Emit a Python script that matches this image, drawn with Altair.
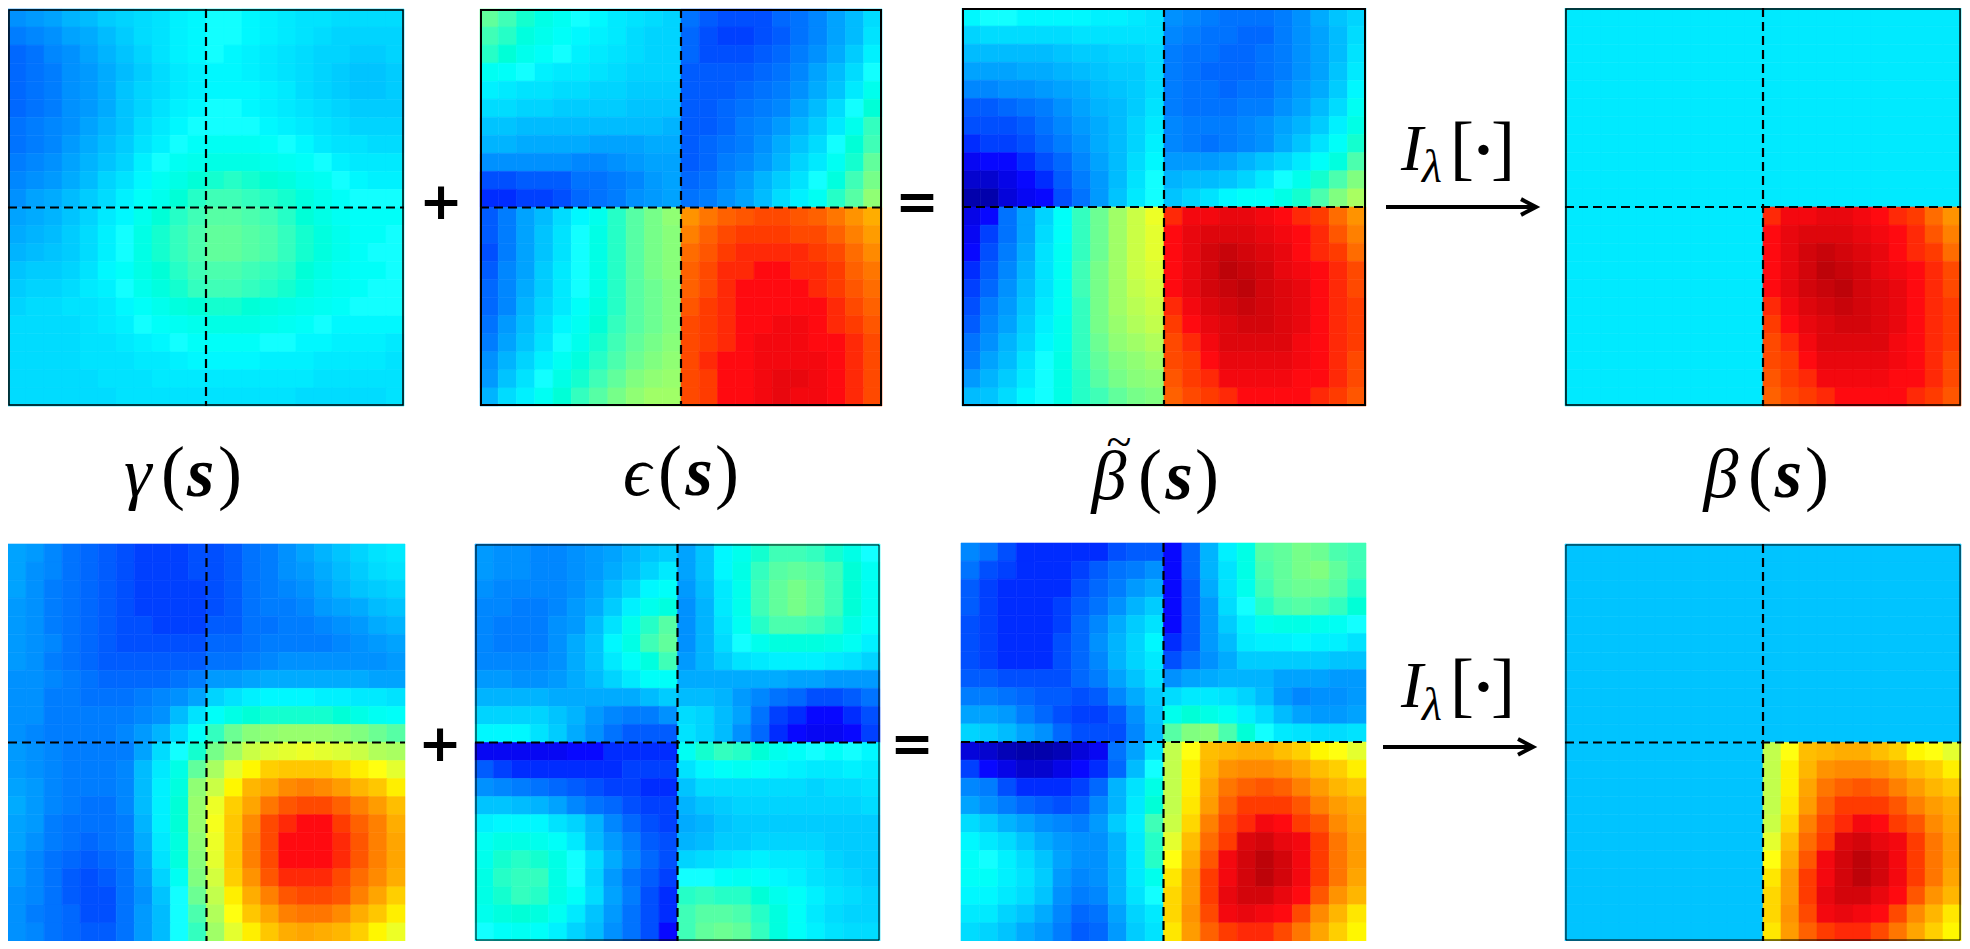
import altair as alt
import pandas as pd

# Heat-map values on a 0-100 jet scale (22 x 22 cells per panel)
gamma_top = [
[20,21,22,24,25,27,28,29,30,32,33,34,34,33,32,31,30,30,29,29,29,29],
[18,19,20,22,23,25,27,29,30,32,33,34,34,33,32,31,30,29,28,28,28,28],
[16,17,19,20,22,24,26,28,30,32,33,34,33,32,31,30,29,28,28,27,27,28],
[16,17,18,20,21,23,25,27,29,31,32,33,33,32,31,30,29,28,27,26,26,27],
[16,17,18,20,21,23,26,28,29,31,32,33,33,33,32,31,29,28,27,26,26,27],
[16,17,18,20,21,23,26,28,30,32,33,34,34,33,32,31,30,29,28,27,27,27],
[17,18,19,20,22,24,26,29,31,33,34,34,34,34,33,32,31,30,29,28,28,28],
[17,18,19,21,23,25,27,30,32,34,35,36,36,36,35,34,33,31,30,30,29,29],
[18,19,20,22,24,26,28,32,34,36,37,38,38,38,37,36,35,34,32,31,31,31],
[19,20,21,23,25,28,30,33,36,38,40,41,42,41,40,39,37,36,34,33,32,32],
[20,22,23,25,27,29,32,35,37,40,42,44,44,43,42,41,39,37,35,34,34,34],
[22,23,24,26,28,31,33,37,40,42,44,46,46,45,44,42,40,38,36,35,35,35],
[23,24,25,27,29,32,34,38,41,43,45,47,47,46,45,43,41,39,37,35,35,34],
[24,25,26,27,29,32,34,38,41,43,45,47,47,46,45,43,41,39,37,35,34,34],
[26,27,27,28,30,33,35,38,40,42,44,45,45,44,43,42,40,38,36,35,35,34],
[27,28,28,29,31,32,34,37,39,41,43,44,44,43,42,41,39,37,36,35,34,34],
[28,29,29,30,30,31,33,35,37,39,40,41,41,40,39,38,37,36,35,34,34,34],
[29,29,29,29,30,31,32,34,35,36,37,38,38,38,37,36,35,34,33,33,33,33],
[29,29,29,29,30,30,31,32,33,34,35,35,35,35,34,34,33,33,32,32,32,31],
[29,29,29,29,30,30,30,31,31,32,33,33,33,33,32,32,32,31,31,31,31,30],
[29,29,29,29,29,30,30,30,31,31,31,31,31,31,31,31,31,30,30,30,30,30],
[29,29,29,29,29,29,30,30,30,30,30,30,30,30,30,30,29,29,29,29,29,30],
]
eps_top = [
[47,44,41,38,36,34,33,31,30,29,28,17,15,14,14,14,16,17,19,22,25,29],
[44,42,39,37,35,33,32,31,29,28,28,16,14,13,13,14,15,17,19,22,25,30],
[42,40,37,35,34,32,31,30,29,28,28,16,14,14,14,15,16,18,20,23,27,32],
[36,35,34,32,31,31,30,29,28,28,28,15,15,15,15,16,17,19,22,25,29,34],
[32,31,30,30,29,29,28,28,27,27,27,15,15,15,16,17,18,20,23,26,31,37],
[29,29,28,28,27,27,27,27,26,26,26,15,15,16,17,18,19,22,25,29,34,40],
[26,26,25,25,25,25,25,25,25,25,24,15,15,16,18,19,21,24,27,31,37,43],
[24,24,23,23,23,23,22,22,22,23,23,15,16,17,18,20,23,26,29,34,40,44],
[20,20,20,20,20,19,19,20,21,22,22,15,16,18,19,21,24,28,31,36,41,47],
[14,14,15,15,15,17,17,18,19,21,22,16,17,19,21,24,27,30,34,39,44,49],
[12,12,13,13,14,16,17,18,20,21,22,17,18,20,22,25,29,32,36,42,46,52],
[15,18,22,25,29,33,37,42,46,49,52,78,81,83,84,85,85,84,83,81,78,75],
[15,18,22,26,30,34,38,42,46,49,51,80,83,85,86,86,86,85,85,83,80,77],
[14,18,22,26,30,34,38,42,46,49,51,82,84,86,87,87,87,87,86,85,82,79],
[15,19,22,27,31,34,38,42,46,49,51,83,85,87,87,88,88,87,87,86,83,81],
[16,19,23,27,31,34,38,42,46,48,50,83,85,87,88,88,88,88,87,86,84,82],
[16,19,24,28,31,35,39,42,46,48,50,84,86,87,88,88,88,88,88,87,85,83],
[17,21,25,29,33,36,40,43,46,48,50,85,86,87,88,88,89,89,88,87,86,84],
[18,22,26,30,34,37,41,44,47,49,51,85,86,87,88,89,89,89,88,88,87,85],
[20,24,28,32,36,39,42,45,48,50,52,85,87,88,88,89,89,89,89,88,87,85],
[21,26,30,34,38,41,44,47,50,52,53,85,86,88,88,89,90,90,89,88,87,85],
[24,29,32,36,40,43,46,49,52,54,54,85,86,88,88,89,90,89,89,88,87,85],
]
beta_tilde_top = [
[33,34,34,33,33,33,33,32,32,31,30,20,19,18,17,17,17,18,20,23,26,28],
[28,29,29,29,29,29,30,30,30,30,30,19,18,17,17,16,16,18,20,22,25,29],
[25,25,25,25,25,26,27,27,28,28,29,18,17,17,16,16,17,18,20,22,25,30],
[22,22,22,23,23,24,25,26,27,27,29,18,17,16,16,16,17,18,20,22,26,31],
[19,19,20,20,21,22,23,25,26,27,29,18,17,17,16,17,17,19,21,23,27,33],
[15,15,16,17,18,20,22,24,25,27,30,18,17,17,17,18,18,20,22,25,29,36],
[14,14,14,15,17,19,21,23,25,28,31,19,18,18,18,19,20,22,24,27,32,38],
[12,13,13,14,16,18,20,23,25,28,32,19,18,17,18,19,20,23,26,30,35,41],
[10,11,11,12,14,16,19,22,25,29,33,21,21,21,22,24,26,28,31,35,39,45],
[7,7,9,11,12,15,18,21,25,30,34,24,25,25,26,28,31,34,37,41,45,50],
[4,4,8,10,11,14,17,21,26,31,34,26,28,30,33,35,35,38,41,45,50,55],
[9,11,17,22,28,35,43,48,54,59,63,87,89,89,90,90,89,88,87,86,82,78],
[10,13,17,22,29,35,43,48,54,59,62,88,90,91,91,91,90,89,88,87,84,80],
[11,14,18,23,30,36,43,48,54,59,62,88,90,92,93,92,91,90,88,87,86,82],
[12,15,19,24,30,36,44,49,54,59,61,88,90,92,94,93,92,90,89,88,87,85],
[13,16,20,25,30,36,44,49,54,58,60,88,90,92,93,94,92,91,90,88,87,85],
[14,18,21,26,31,36,43,49,54,57,59,87,89,91,92,93,92,91,90,88,87,86],
[15,19,22,27,32,37,43,49,53,56,58,86,88,90,91,92,92,91,90,88,87,86],
[17,20,24,28,33,37,43,48,52,54,56,85,87,89,91,91,91,91,89,88,87,86],
[18,22,25,30,34,38,43,47,50,52,54,85,86,88,90,90,90,90,89,88,87,85],
[21,24,27,31,34,38,42,46,49,51,52,84,86,87,89,89,89,89,88,88,87,85],
[25,26,29,33,34,38,42,44,47,49,50,83,85,86,87,88,88,88,88,87,86,84],
]
gamma_low = [
[22,21,19,17,16,15,14,13,13,13,14,14,15,17,18,20,22,24,26,28,30,31],
[22,20,19,17,16,15,14,13,13,13,14,14,15,17,18,20,21,23,25,27,29,30],
[22,20,18,17,16,15,14,13,13,13,13,14,15,17,18,19,20,22,24,26,27,28],
[21,20,18,17,16,15,14,13,13,13,13,14,15,17,18,18,19,21,22,23,25,26],
[21,20,18,17,16,15,14,14,13,13,13,15,15,17,17,18,18,19,20,21,23,24],
[21,20,19,17,16,15,14,14,14,14,14,16,16,17,18,18,18,18,19,20,21,22],
[21,20,18,17,16,15,15,15,15,15,15,17,17,18,19,20,20,20,20,20,20,21],
[20,20,19,18,17,16,16,16,16,17,18,21,21,22,23,23,23,23,23,23,22,22],
[20,20,18,18,17,17,17,18,19,20,22,28,30,32,33,33,33,32,32,31,31,30],
[20,20,18,18,18,18,18,19,20,25,30,35,38,40,41,41,41,41,40,38,36,35],
[20,19,18,18,18,18,19,21,24,29,35,43,48,51,52,53,53,53,52,50,48,46],
[21,20,19,18,18,18,18,22,29,34,41,49,54,59,61,62,63,62,61,59,56,55],
[21,20,19,18,18,18,19,25,31,38,47,55,62,66,71,72,72,72,70,67,65,62],
[22,21,19,18,18,18,19,25,32,39,52,59,66,74,76,79,80,79,77,74,72,67],
[23,21,19,18,17,17,19,25,32,40,53,63,71,76,81,84,85,85,83,80,77,73],
[22,21,18,17,17,17,18,24,32,40,53,64,72,79,85,87,88,88,86,83,80,75],
[22,20,18,17,16,17,18,23,31,39,52,63,72,80,85,88,88,88,87,84,80,76],
[21,19,17,16,15,16,17,22,30,39,51,62,72,80,85,88,88,88,87,84,80,76],
[21,19,17,15,14,15,17,21,28,36,50,60,71,78,84,87,87,87,85,82,79,75],
[20,19,17,15,14,14,17,20,26,34,48,58,67,75,80,84,85,85,84,80,76,71],
[20,18,17,16,14,14,17,21,25,34,45,56,65,72,76,80,81,81,79,75,72,67],
[20,19,17,16,15,15,17,21,25,34,43,54,62,67,72,75,76,75,74,71,66,63],
]
eps_low = [
[21,20,20,19,19,20,21,22,24,26,27,22,26,33,37,41,44,44,43,41,38,34],
[21,20,20,19,19,20,21,23,25,28,31,22,26,33,38,43,46,47,46,44,40,36],
[20,19,19,19,19,20,22,25,28,33,35,21,25,31,37,44,47,49,47,44,40,36],
[19,19,18,18,19,21,23,27,32,37,39,20,24,31,37,44,47,49,47,44,40,36],
[19,18,18,18,20,21,25,30,37,42,46,20,24,30,36,42,45,45,44,42,38,35],
[19,18,18,18,20,23,26,33,38,44,47,20,24,29,34,37,39,39,39,38,36,32],
[19,19,19,19,20,23,26,31,35,39,44,21,24,27,30,31,32,32,32,31,30,28],
[21,21,20,20,21,23,25,28,31,35,35,23,23,23,23,23,23,22,22,21,21,21],
[24,24,24,24,23,23,23,23,23,25,27,25,25,24,21,19,17,16,14,14,15,17],
[28,28,28,28,26,24,21,19,18,18,20,29,28,25,22,17,13,12,11,11,12,14],
[33,33,33,30,27,23,20,17,15,15,15,30,28,25,20,16,12,11,10,10,11,13],
[10,10,10,10,10,11,11,12,12,12,12,36,41,43,42,40,37,35,34,35,34,33],
[15,13,12,12,12,12,12,12,13,13,13,30,33,35,36,35,33,32,31,31,32,31],
[20,19,18,17,16,15,14,13,13,12,12,26,29,29,29,29,29,29,28,29,29,30],
[26,26,25,24,22,19,17,16,14,13,13,24,26,27,28,28,28,28,28,28,28,29],
[32,33,33,33,30,28,24,19,16,14,13,23,24,26,27,27,27,27,27,27,27,27],
[36,38,38,37,35,31,25,21,18,15,14,24,25,27,27,28,28,28,28,27,27,27],
[37,41,42,41,38,34,29,23,19,16,14,28,29,30,31,32,31,31,30,28,27,27],
[38,42,43,43,38,34,28,21,17,15,13,34,34,35,36,35,33,32,30,29,28,27],
[38,41,43,42,38,35,29,22,18,14,12,42,43,42,42,40,37,35,32,30,29,28],
[37,39,40,39,36,31,26,21,17,14,12,44,46,46,45,42,39,35,31,29,28,28],
[34,35,36,35,32,28,25,20,17,14,11,44,47,48,47,43,39,35,32,30,29,29],
]
beta_tilde_low = [
[19,17,14,12,12,12,12,12,14,15,15,11,16,24,32,38,46,47,49,48,45,44],
[17,14,13,12,12,12,13,15,17,18,20,11,16,24,30,38,45,47,49,50,47,44],
[15,13,12,12,12,12,14,16,18,21,23,11,15,23,30,37,44,47,48,48,46,42],
[15,13,12,12,12,13,15,17,20,24,27,11,15,21,29,34,42,45,46,45,43,40],
[14,13,12,12,12,13,16,19,23,27,30,11,15,21,27,32,37,38,38,37,36,34],
[14,13,12,12,12,14,16,20,24,28,33,12,15,21,25,31,32,32,33,32,32,30],
[14,13,12,12,12,14,16,19,24,28,31,14,17,20,23,27,27,27,27,27,26,26],
[15,15,14,14,14,14,16,18,22,26,30,20,22,23,24,24,24,22,22,22,21,21],
[18,18,17,16,15,15,14,15,19,23,27,29,31,31,30,28,25,21,19,20,20,21],
[22,22,21,18,16,14,13,13,15,20,26,37,40,38,36,32,29,25,22,21,21,22],
[28,27,25,22,20,16,14,14,14,19,25,46,50,51,45,40,34,31,30,29,29,30],
[8,7,5,4,4,5,8,10,17,22,30,58,65,73,74,75,75,73,71,66,65,62],
[13,11,9,7,7,9,11,12,16,25,34,58,67,74,78,79,79,78,76,73,71,67],
[19,18,14,12,12,12,13,16,24,30,38,58,67,76,81,83,84,83,80,77,74,72],
[22,20,18,16,15,14,15,19,24,31,40,58,68,77,83,86,86,86,84,80,77,75],
[29,27,24,22,20,19,18,21,27,32,44,59,70,80,85,87,89,88,86,84,79,76],
[33,31,29,26,23,21,20,20,24,31,42,62,73,82,86,91,92,90,89,86,81,77],
[35,34,32,29,26,22,20,20,24,31,42,65,75,84,89,92,94,92,89,86,81,77],
[35,35,32,30,27,21,19,20,24,31,37,68,77,86,89,92,94,92,89,86,81,76],
[33,33,31,29,26,20,18,19,24,30,34,70,77,86,90,92,92,90,88,84,78,74],
[31,31,28,26,23,19,16,17,22,28,31,70,78,85,89,90,89,88,85,79,74,68],
[29,28,26,23,21,18,15,16,21,27,30,68,77,83,86,87,87,85,81,76,71,66],
]
beta_top_level = 31   # flat level of the thresholded panels
beta_low_level = 26

JET_STOPS = [0, 11, 34, 50, 65, 88, 100]
JET_COLORS = ["#00007f", "#0808ff", "#12ffff", "#80ff80", "#ffff10", "#ff0a10", "#7f0000"]


def thresholded(src, level):
    return [[src[r][c] if (r >= 11 and c >= 11) else level for c in range(22)] for r in range(22)]


# name, matrix, left, right, top, bottom, frame width
panels = [
    ("gamma_top", gamma_top, 1, 404, 3, 406, 1.5),
    ("eps_top", eps_top, 480, 882, 3, 406, 2),
    ("beta_tilde_top", beta_tilde_top, 962, 1366, 2, 406, 2),
    ("beta_top", thresholded(beta_tilde_top, beta_top_level), 1565, 1969, 2, 406, 1.5),
    ("gamma_low", gamma_low, 1, 405, 544, 949, 0),
    ("eps_low", eps_low, 475, 880, 544, 949, 1),
    ("beta_tilde_low", beta_tilde_low, 961, 1366, 543, 949, 0),
    ("beta_low", thresholded(beta_tilde_low, beta_low_level), 1565, 1969, 544, 949, 1),
]

cells, frames, hlines, vlines = [], [], [], []
for name, m, l, r, t, b, fw in panels:
    dx, dy = (r - l) / 22, (b - t) / 22
    for i, row in enumerate(m):
        for j, v in enumerate(row):
            cells.append(dict(panel=name, v=v, x=l + j * dx, x2=l + (j + 1) * dx,
                              y=t + i * dy, y2=t + (i + 1) * dy))
    if fw:
        frames.append(dict(x=l + 1, x2=r - 1, y=t + 1, y2=b - 1, w=fw))
    hlines.append(dict(x=l, x2=r, y=(t + b) / 2))
    vlines.append(dict(x=(l + r) / 2, y=t, y2=b))

# The page margin costs 8px on each side: the outer panels give up that room,
# everything between them stays where it is in the reference.
X = alt.Scale(domain=[1, 404, 1565, 1970], range=[0, 396, 1557, 1954])
Y = alt.Scale(domain=[2, 406, 544, 949], range=[0, 398, 536, 933])
C = alt.Scale(domain=JET_STOPS, range=JET_COLORS, clamp=True)
xe = alt.X("x:Q", scale=X, axis=None)
ye = alt.Y("y:Q", scale=Y, axis=None)

heat = alt.Chart(pd.DataFrame(cells)).mark_rect(strokeWidth=0.6).encode(
    x=xe, x2="x2:Q", y=ye, y2="y2:Q",
    color=alt.Color("v:Q", scale=C, legend=None),
    stroke=alt.Stroke("v:Q", scale=C, legend=None),
)
frame = alt.Chart(pd.DataFrame(frames)).mark_rect(fillOpacity=0, stroke="black").encode(
    x=xe, x2="x2:Q", y=ye, y2="y2:Q",
    strokeWidth=alt.StrokeWidth("w:Q", scale=None),
)
DASH = [9, 5]
h_rule = alt.Chart(pd.DataFrame(hlines)).mark_rule(color="black", strokeWidth=2.2, strokeDash=DASH).encode(
    x=xe, x2="x2:Q", y=ye)
v_rule = alt.Chart(pd.DataFrame(vlines)).mark_rule(color="black", strokeWidth=2.2, strokeDash=DASH).encode(
    x=xe, y=ye, y2="y2:Q")

# text pieces: (text, x, baseline y, size)
BG, BE, BT, BB = 496, 495, 499, 497
italics = [
    ("γ", 133, BG, 70), ("ϵ", 637, BE, 70), ("β", 1109, BT, 70), ("β", 1724, BB, 70),
    ("I", 1412, 166, 66), ("λ", 1432, 179, 46), ("I", 1412, 710, 66), ("λ", 1432, 724, 46),
]
regulars = [
    ("(", 169, BG, 72), (")", 227, BG, 72), ("(", 670, BE, 72), (")", 727, BE, 72),
    ("(", 1150, BT, 72), (")", 1207, BT, 72), ("(", 1764, BB, 72), (")", 1822, BB, 72),
    ("~", 1119, 457, 46),
    ("[", 1462, 167, 72), ("]", 1503, 167, 72),
    ("[", 1462, 711, 72), ("]", 1503, 711, 72),
]
bolds = [("s", 197, BG, 70), ("s", 699, BE, 70), ("s", 1179, BT, 70), ("s", 1793, BB, 70),
         ("·", 1483, 167, 64), ("·", 1483, 711, 64)]
operators = [("+", 441, 216, 52), ("=", 917, 216, 52), ("+", 440, 765, 52), ("=", 912, 765, 52)]


def text_layer(rows, **kw):
    df = pd.DataFrame(rows, columns=["t", "x", "y", "s"])
    return alt.Chart(df).mark_text(align="center", baseline="alphabetic", color="black", **kw).encode(
        x=xe, y=ye, text="t:N", size=alt.Size("s:Q", scale=None))


SERIF = "Liberation Serif"
t_it = text_layer(italics, font=SERIF, fontStyle="italic")
t_re = text_layer(regulars, font=SERIF)
t_bo = text_layer(bolds, font=SERIF, fontStyle="italic", fontWeight="bold")
t_op = text_layer(operators, font="DejaVu Sans", fontWeight="bold")

# arrows: shaft and open head
shafts = [dict(x=1386, x2=1534, y=204), dict(x=1383, x2=1531, y=751)]
arrow_shaft = alt.Chart(pd.DataFrame(shafts)).mark_rule(color="black", strokeWidth=4).encode(
    x=xe, x2="x2:Q", y=ye)
heads = []
for a, (tip, cy) in enumerate([(1536, 204), (1533, 751)]):
    for k, (ox, oy) in enumerate([(-15, -8), (0, 0), (-15, 8)]):
        heads.append(dict(a=a, k=k, x=tip + ox, y=cy + oy))
arrow_head = alt.Chart(pd.DataFrame(heads)).mark_line(color="black", strokeWidth=4, strokeJoin="miter").encode(
    x=xe, y=ye, order="k:Q", detail="a:N")

chart = alt.layer(heat, frame, h_rule, v_rule, t_it, t_re, t_bo, t_op, arrow_shaft, arrow_head).resolve_scale(
    color="independent", stroke="independent"
).properties(
    width=1954, height=933, padding=0, autosize=alt.AutoSizeParams(type="none"),
).configure_view(stroke=None)

chart.save("out.html", embed_options={"renderer": "svg", "actions": False})
